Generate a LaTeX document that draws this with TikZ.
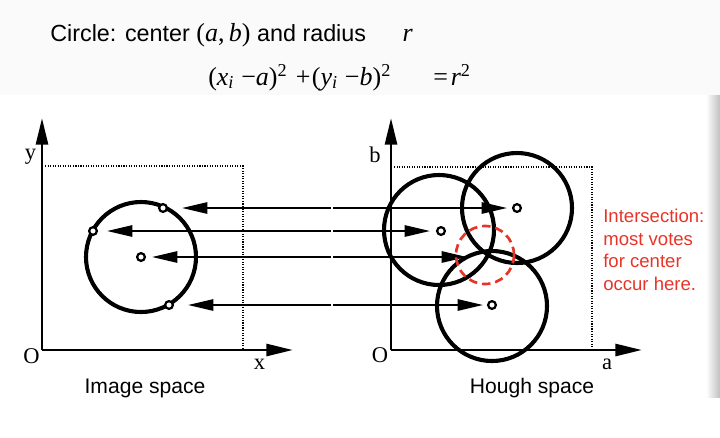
\documentclass[tikz,border=0pt]{standalone}
\usepackage{fontspec}
\setmainfont{Liberation Sans}
\newfontfamily\axisfont{Liberation Serif}
\usetikzlibrary{arrows.meta, positioning}
\definecolor{vred}{RGB}{232,52,40}
\newcommand{\ivar}[1]{\textit{#1}}

\begin{document}
\begin{tikzpicture}[x=0.025cm, y=-0.025cm,
  axis/.style={line width=2.1pt, -{Triangle[length=19pt,width=8.5pt]}},
  vote/.style={line width=1.4pt, -{Triangle[length=18pt,width=8pt]}},
  frame/.style={densely dotted, line width=0.8pt},
  locus/.style={line width=2.9pt},
  pt/.style={circle, draw, line width=1.6pt, fill=white, inner sep=0pt, minimum size=5.5pt},
  lbl/.style={font=\axisfont\fontsize{16}{16}\selectfont, inner sep=0pt},
  caption/.style={font=\fontsize{15}{15}\selectfont, inner sep=0pt, anchor=base}
]
\fill[black!2] (0,0) rectangle (720,95);
\shade[left color=white, right color=black!25] (706,95) rectangle (720,397);
\useasboundingbox (0,0) rectangle (720,437);

% title and equation
\node[anchor=base west, inner sep=0pt, font=\fontsize{16.6}{17}\selectfont] (title) at (50,41)
  {Circle: center {\axisfont\fontsize{18.5}{18}\selectfont(\ivar{a},\,\ivar{b})} and radius\hspace{26pt}{\axisfont\fontsize{18.5}{18}\selectfont\ivar{r}}};
\node[anchor=base west, inner sep=0pt, font=\axisfont\fontsize{18.5}{19}\selectfont] (eq) at (208,85)
  {(\ivar{x}\textsubscript{\ivar{i}}\hspace{5pt}−\ivar{a})\textsuperscript{2}\hspace{6pt}+\hspace{1pt}(\ivar{y}\textsubscript{\ivar{i}}\hspace{5pt}−\ivar{b})\textsuperscript{2}\hspace{30pt}=\hspace{2pt}\ivar{r}\textsuperscript{2}};

% image space
\coordinate (oI) at (42,350);
\draw[axis] (oI) -- (42,118) coordinate (yI);
\draw[axis] (oI) -- (293,350) coordinate (xI);
\draw[frame] (45,166) -| (243,350);
\node[lbl] (labO1) at (31.5,356.5) {O};
\node[lbl] (laby) at (30.5,157) {y};
\node[lbl] (labx) at (259.5,364) {x};
\draw[locus] (141,257) circle (55);
\node[pt] (p1) at (163,208) {};
\node[pt] (p2) at (93,231) {};
\node[pt] (p3) at (141,257) {};
\node[pt] (p4) at (169,305) {};
\node[caption] (capI) at (145,393) {Image space};

% hough space
\coordinate (oH) at (391,350);
\draw[axis] (oH) -- (391,118) coordinate (yH);
\draw[axis] (oH) -- (642,350) coordinate (xH);
\draw[frame] (394,167) -| (592,350);
\node[lbl] (labO2) at (380,355) {O};
\node[lbl] (labb) at (375,154.5) {b};
\node[lbl] (laba) at (607,364) {a};
\draw[locus] (517,208) circle (55);
\draw[locus] (439,230) circle (55);
\draw[locus] (492,306) circle (55);
\node[pt] (q1) at (517,208) {};
\node[pt] (q2) at (441,231) {};
\node[pt] (q4) at (492,305) {};
\coordinate (ix) at (485,255);
\node[caption] (capH) at (532,393) {Hough space};

% votes
\foreach \r/\lt/\rt [count=\i] in {208/182/507, 231/107/430, 257/152/467, 305/188/483} {
  \coordinate (gl\i) at (331,\r);
  \coordinate (gr\i) at (333,\r);
  \coordinate (tl\i) at (\lt,\r);
  \coordinate (tr\i) at (\rt,\r);
  \draw[vote] (gl\i) -- (tl\i);
  \draw[vote] (gr\i) -- (tr\i);
}

% intersection
\draw[vred, line width=1.9pt, dash pattern=on 6pt off 3.5pt] (ix) circle (29);
\node[anchor=north west, align=left, text=vred, inner sep=0pt,
      font=\fontsize{13.2}{16}\selectfont] (note) at (603,209)
  {Intersection:\\most votes\\for center\\occur here.};
\end{tikzpicture}
\end{document}
